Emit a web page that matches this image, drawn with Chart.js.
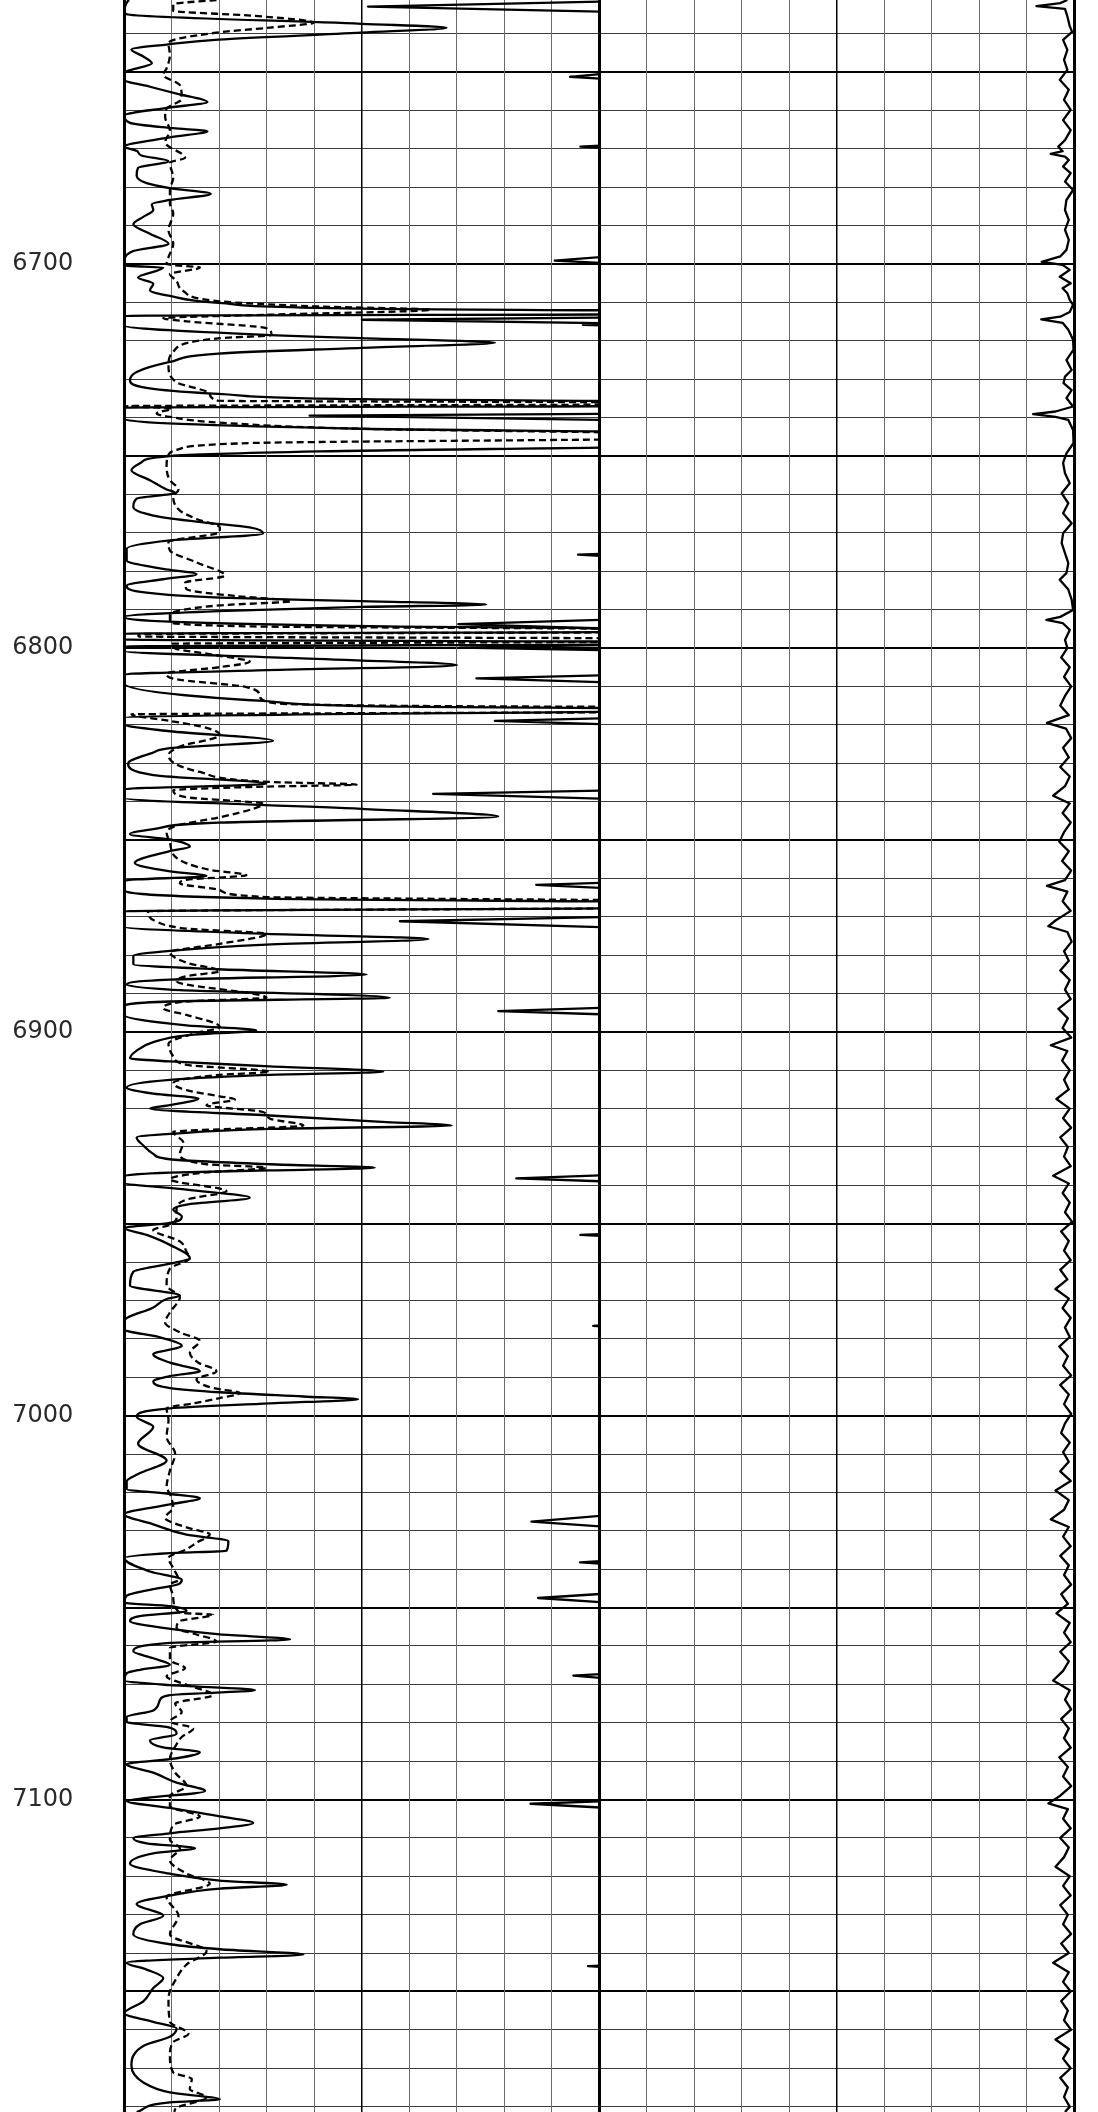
<!DOCTYPE html>
<html><head><meta charset="utf-8">
<script src="https://cdn.jsdelivr.net/npm/chart.js@4/dist/chart.umd.min.js"></script>
<style>html,body{margin:0;padding:0;background:#fff;}canvas{display:block;}</style>
</head><body>
<canvas id="c" width="1098" height="2112"></canvas>
<script>
// depth window (ft) and labelled depths
const depthRange = [6631.2, 7181.4];
const depthLabels = [6700, 6800, 6900, 7000, 7100];
const gridDepths = [];
for (let d = 6640; d <= 7180; d += 10) gridDepths.push(d);
// track scales (divisions)
const track1Range = [0, 10];
const track2Range = [0, 10];

// Track 1 solid curve  [depth, value]
const curveA = [[6631.2,0.10],[6631.4,0.08],[6634.2,0.0],[6634.9,0.05],[6637.4,4.99],[6638.4,6.78],[6639.7,4.99],[6641.5,1.98],[6642.8,0.89],[6644.1,0.15],[6645.9,0.40],[6647.7,0.58],[6649.4,0.15],[6650.0,0.0],[6652.0,0.0],[6653.8,0.54],[6655.6,1.10],[6657.8,1.75],[6659.3,0.89],[6661.3,0.0],[6663.2,0.12],[6664.6,1.03],[6665.4,1.75],[6667.0,0.96],[6669.4,0.0],[6670.5,0.26],[6671.7,0.36],[6673.2,0.93],[6674.9,0.29],[6676.9,0.26],[6678.9,0.47],[6680.2,0.96],[6681.7,1.82],[6683.3,0.96],[6684.4,0.58],[6685.9,0.61],[6687.7,0.40],[6689.6,0.19],[6692.1,0.54],[6694.7,0.93],[6696.6,0.19],[6699.5,0.0],[6700.4,0.05],[6700.9,0.82],[6703.5,0.29],[6705.1,0.61],[6706.8,0.54],[6708.3,0.96],[6710.1,1.98],[6711.6,4.99],[6712.3,12],[6713.0,12],[6713.5,0.0],[6716.0,0.0],[6718.5,3.06],[6719.3,4.99],[6720.5,7.80],[6721.8,4.99],[6723.3,1.98],[6725.5,0.96],[6728.1,0.26],[6730.3,0.12],[6732.5,0.61],[6733.8,1.98],[6735.2,4.99],[6735.9,12],[6736.9,12],[6737.4,0.0],[6740.4,0.0],[6742.9,4.99],[6744.0,12],[6747.2,12],[6748.8,4.1],[6750.0,0.96],[6751.9,0.33],[6753.7,0.15],[6756.3,0.54],[6758.7,0.89],[6759.6,1.07],[6761.1,0.26],[6763.3,0.19],[6765.5,0.61],[6767.3,1.66],[6768.6,2.64],[6770.2,2.92],[6772.0,0.96],[6774.2,0.05],[6777.2,0.05],[6779.4,0.82],[6780.8,1.52],[6782.1,0.82],[6783.8,0.05],[6785.6,0.47],[6786.9,2.01],[6787.8,4.99],[6788.7,7.62],[6789.3,4.99],[6790.4,1.98],[6791.9,0.0],[6794.4,5.5],[6795.1,12],[6795.7,12],[6796.3,0.0],[6797.8,0.0],[6798.5,12],[6799.0,12],[6799.6,0.0],[6800.8,0.0],[6802.6,3.5],[6804.5,7.0],[6805.8,3.0],[6806.9,0.0],[6809.2,0.0],[6813.8,2.92],[6815.3,6.0],[6815.9,12],[6816.4,12],[6817.1,5.5],[6818.2,0.0],[6819.9,0.0],[6821.7,0.96],[6824.2,3.13],[6826.1,0.96],[6827.4,0.58],[6830.1,0.08],[6833.1,0.61],[6835.4,2.99],[6836.8,0.0],[6839.1,0.0],[6841.9,4.99],[6843.9,7.87],[6845.5,1.98],[6847.2,0.61],[6848.5,0.12],[6849.9,0.96],[6851.8,1.38],[6852.9,0.96],[6856.0,0.22],[6858.2,0.96],[6859.4,1.73],[6860.6,0.0],[6862.9,0.0],[6865.3,2.99],[6866.4,12],[6867.6,12],[6868.6,0.0],[6872.6,0.0],[6874.5,2.99],[6875.8,6.40],[6877.3,2.99],[6878.9,0.96],[6880.2,0.19],[6882.4,0.19],[6883.7,1.98],[6885.1,5.10],[6886.4,0.96],[6887.7,0.05],[6889.0,0.96],[6891.1,5.59],[6892.1,0.96],[6893.4,0.0],[6895.6,0.0],[6898.3,1.31],[6899.6,2.78],[6900.9,1.31],[6902.7,0.61],[6904.9,0.26],[6906.9,0.12],[6907.7,0.96],[6909.0,3.06],[6910.4,5.45],[6911.2,3.06],[6912.5,0.96],[6914.5,0.05],[6916.1,0.61],[6917.4,1.56],[6919.1,0.96],[6920.0,0.54],[6921.8,3.06],[6923.5,5.52],[6924.4,6.89],[6925.3,3.06],[6926.6,0.96],[6927.5,0.26],[6929.6,0.40],[6931.8,0.61],[6933.2,0.96],[6934.5,3.06],[6935.4,5.27],[6936.1,3.06],[6936.7,0.96],[6937.5,0.0],[6939.3,0.0],[6941.1,1.31],[6943.2,2.64],[6945.0,1.31],[6946.3,1.03],[6948.1,1.21],[6949.8,0.96],[6951.1,0.0],[6952.9,0.47],[6955.5,0.96],[6959.0,1.38],[6960.4,0.96],[6962.5,0.19],[6966.1,0.12],[6968.7,1.17],[6969.6,0.89],[6971.8,0.61],[6975.3,0.0],[6977.5,0.0],[6979.6,0.75],[6981.8,1.21],[6984.0,0.61],[6986.2,0.96],[6988.4,1.59],[6989.7,0.96],[6991.1,0.61],[6992.8,0.96],[6993.9,2.01],[6995.0,3.77],[6995.7,4.92],[6996.8,3.06],[6998.1,0.96],[7000.3,0.26],[7002.9,0.61],[7007.3,0.29],[7011.7,0.89],[7015.2,0.29],[7017.1,0.05],[7019.1,0.05],[7020.4,0.96],[7021.5,1.59],[7023.1,0.96],[7025.7,0.0],[7028.3,0.61],[7031.0,1.31],[7032.7,2.19],[7035.2,2.15],[7035.8,0.96],[7037.1,0.0],[7040.6,0.54],[7042.8,1.21],[7043.9,1.14],[7045.2,0.61],[7046.9,0.05],[7048.7,0.0],[7049.6,0.96],[7050.9,1.31],[7052.2,0.33],[7053.5,0.12],[7055.3,0.82],[7057.0,2.01],[7058.3,3.49],[7059.2,0.96],[7061.4,0.19],[7063.2,0.61],[7064.9,0.96],[7066.2,0.33],[7067.1,0.05],[7068.9,0.0],[7070.2,0.96],[7071.5,2.75],[7072.8,0.96],[7074.1,0.75],[7076.8,0.61],[7078.5,0.05],[7079.8,0.05],[7081.1,0.89],[7082.9,1.10],[7084.6,0.54],[7086.4,0.82],[7087.7,1.59],[7089.5,0.96],[7090.8,0.05],[7093.0,0.61],[7095.6,1.10],[7097.8,1.70],[7099.6,0.47],[7100.4,0.05],[7102.2,0.96],[7104.4,2.01],[7106.1,2.71],[7107.5,2.01],[7108.8,0.96],[7110.1,0.19],[7111.4,0.47],[7112.7,1.49],[7114.0,0.61],[7116.7,0.12],[7119.3,0.96],[7121.1,2.01],[7122.2,3.42],[7123.2,2.01],[7125.0,0.96],[7127.2,0.26],[7130.3,0.82],[7132.5,0.33],[7135.1,0.19],[7137.7,0.96],[7139.0,2.01],[7140.4,3.77],[7141.2,2.01],[7142.5,0.05],[7144.3,0.47],[7146.5,0.82],[7149.1,0.61],[7152.6,0.40],[7155.7,0.0],[7157.9,0.61],[7159.6,1.10],[7161.8,0.96],[7164.0,0.43],[7166.7,0.19],[7169.3,0.15],[7173.7,0.40],[7176.3,0.96],[7178.1,2.01],[7178.9,0.96],[7181.4,0.26]];

// Track 1 dashed curve  [depth, value]
const curveB = [[6631.2,1.94],[6632.3,1.03],[6634.0,1.03],[6635.3,2.71],[6637.1,3.98],[6638.4,3.06],[6639.7,1.94],[6642.4,0.93],[6645.5,0.96],[6649.0,0.89],[6650.7,0.82],[6653.4,1.17],[6656.9,1.21],[6659.5,0.89],[6661.7,0.86],[6665.2,0.96],[6668.3,0.86],[6672.3,1.28],[6673.6,0.96],[6677.6,1.03],[6680.6,0.96],[6684.2,0.96],[6686.8,1.03],[6691.2,0.93],[6694.7,1.03],[6698.2,0.93],[6700.0,0.89],[6700.9,1.59],[6702.6,0.96],[6704.4,1.10],[6707.0,1.24],[6709.7,2.01],[6711.0,3.98],[6711.9,6.45],[6713.2,3.0],[6714.1,0.82],[6714.9,1.31],[6716.7,2.99],[6718.5,3.10],[6719.3,2.01],[6722.8,1.03],[6726.4,0.93],[6730.8,1.10],[6733.8,1.80],[6735.6,1.98],[6736.1,12],[6736.5,12],[6737.0,0.0],[6737.6,1.0],[6738.9,0.68],[6739.8,0.96],[6741.3,2.01],[6742.9,4.99],[6744.4,12],[6745.3,12],[6746.6,2.71],[6748.4,1.10],[6749.7,0.93],[6752.8,0.89],[6756.3,0.96],[6758.7,1.14],[6760.7,1.03],[6764.2,1.17],[6766.4,1.52],[6768.6,2.01],[6769.8,2.01],[6772.4,0.93],[6774.6,0.96],[6777.7,1.52],[6781.2,2.12],[6783.0,1.28],[6784.7,1.31],[6786.5,2.36],[6787.8,3.52],[6788.9,2.01],[6791.3,0.96],[6793.1,0.96],[6794.4,2.71],[6795.2,12],[6795.8,12],[6796.4,0.3],[6797.0,0.3],[6797.6,12],[6798.3,12],[6798.9,1.0],[6800.1,1.07],[6801.9,1.94],[6803.6,2.64],[6805.0,2.01],[6806.7,0.89],[6808.0,1.03],[6810.2,2.57],[6812.4,2.85],[6814.2,3.06],[6815.1,6.01],[6815.5,12],[6816.6,12],[6817.3,0.15],[6819.0,0.96],[6820.8,1.73],[6822.7,2.01],[6825.7,1.17],[6827.9,0.93],[6832.3,1.59],[6834.9,3.06],[6835.6,4.89],[6836.2,2.71],[6837.1,1.03],[6838.9,1.31],[6840.6,2.92],[6841.9,2.71],[6844.1,2.01],[6846.3,1.10],[6848.1,0.89],[6850.7,0.96],[6854.7,1.10],[6857.8,1.80],[6859.2,2.57],[6860.4,1.31],[6861.3,1.17],[6863.1,2.01],[6864.9,2.99],[6866.0,12],[6867.6,12],[6868.6,0.5],[6871.3,0.68],[6873.1,1.31],[6874.5,2.99],[6877.1,2.01],[6879.3,0.96],[6882.0,1.31],[6884.2,2.01],[6885.5,1.31],[6886.8,1.10],[6891.1,2.99],[6892.1,1.31],[6893.9,0.82],[6895.6,1.31],[6898.7,2.01],[6900.5,1.45],[6903.1,0.93],[6906.4,1.03],[6908.6,1.31],[6910.4,3.06],[6911.2,2.01],[6913.4,1.03],[6915.2,1.31],[6916.8,2.01],[6917.6,2.33],[6919.1,1.73],[6920.9,2.92],[6922.6,3.06],[6924.4,3.77],[6926.1,1.03],[6928.8,1.24],[6931.8,1.17],[6934.5,1.73],[6935.4,2.99],[6936.7,1.66],[6938.4,0.96],[6941.5,2.15],[6943.7,1.31],[6945.9,1.10],[6948.5,1.10],[6950.3,0.96],[6951.6,0.61],[6954.6,1.17],[6957.3,1.31],[6959.0,1.38],[6961.7,0.96],[6966.1,0.89],[6969.1,1.17],[6973.1,0.96],[6975.7,0.86],[6978.3,1.17],[6980.5,1.59],[6983.6,1.38],[6986.2,1.56],[6988.4,1.94],[6990.6,1.52],[6992.8,1.87],[6994.1,2.43],[6995.4,2.01],[6996.8,1.45],[6998.1,0.89],[7001.1,0.93],[7005.5,0.89],[7009.9,1.07],[7014.3,0.96],[7018.7,0.89],[7020.4,0.96],[7023.9,1.03],[7026.6,0.86],[7029.1,1.31],[7030.9,1.80],[7033.1,1.52],[7034.8,1.31],[7037.1,0.93],[7039.7,1.03],[7042.8,1.14],[7043.9,0.96],[7047.4,1.03],[7051.3,1.17],[7051.9,1.87],[7053.5,1.17],[7055.3,1.10],[7057.0,1.52],[7058.8,1.94],[7060.5,0.96],[7063.6,0.96],[7065.8,1.28],[7067.9,0.89],[7070.1,1.31],[7072.8,1.87],[7075.0,1.07],[7077.2,1.21],[7079.7,0.96],[7081.5,1.45],[7083.7,1.21],[7085.6,1.10],[7089.5,0.96],[7093.0,1.07],[7096.5,1.31],[7099.1,0.96],[7101.8,0.96],[7104.4,1.59],[7106.6,1.03],[7110.5,0.96],[7112.7,1.17],[7115.8,0.96],[7119.3,1.31],[7121.9,1.80],[7125.4,0.89],[7130.3,1.14],[7135.1,0.96],[7139.5,1.73],[7143.0,1.31],[7146.5,1.10],[7151.8,0.93],[7157.9,0.96],[7161.0,1.35],[7163.2,1.03],[7166.7,0.96],[7171.1,1.03],[7172.8,1.42],[7175.4,1.38],[7177.6,1.73],[7180.3,1.10],[7181.4,1.05]];

// Track 1 curve riding the right edge (leftward spikes)  [depth, value]
const curveC = [[6631.2,10.2],[6631.6,10.2],[6632.9,5.13],[6634.3,10.2],[6650.3,10.2],[6651.2,9.38],[6651.8,10.2],[6669.0,10.2],[6669.4,9.6],[6669.8,10.2],[6698.0,10.2],[6699.1,9.06],[6699.8,10.2],[6713.9,10.2],[6714.5,5.0],[6715.4,10.2],[6715.6,10.2],[6715.8,9.65],[6716.0,10.2],[6739.0,10.2],[6739.5,3.9],[6740.6,10.2],[6775.4,10.2],[6775.7,9.55],[6776.1,10.2],[6792.6,10.2],[6793.8,7.03],[6795.0,10.2],[6799.2,10.2],[6799.9,7.06],[6800.6,10.2],[6807.1,10.2],[6807.9,7.41],[6809.0,10.2],[6818.3,10.2],[6819.0,7.8],[6819.9,10.2],[6837.1,10.2],[6838.0,6.5],[6839.3,10.2],[6861.1,10.2],[6861.7,8.67],[6862.6,10.2],[6870.1,10.2],[6871.2,5.8],[6872.8,10.2],[6893.7,10.2],[6894.6,7.87],[6895.5,10.2],[6937.3,10.2],[6938.2,8.25],[6939.0,10.2],[6952.6,10.2],[6952.9,9.6],[6953.3,10.2],[6976.4,10.2],[6976.6,9.87],[6976.9,10.2],[7025.9,10.2],[7027.6,8.57],[7029.0,10.2],[7037.8,10.2],[7038.2,9.59],[7038.7,10.2],[7046.3,10.2],[7047.5,8.71],[7048.7,10.2],[7067.2,10.2],[7067.7,9.45],[7068.5,10.2],[7100.4,10.2],[7101.1,8.55],[7102.2,10.2],[7143.2,10.2],[7143.4,9.76],[7143.7,10.2],[7181.4,10.2]];

// Track 2 curve  [depth, value]
const curveD = [[6631.2,9.85],[6632.0,9.7],[6632.8,9.2],[6633.5,9.8],[6635.5,9.85],[6638.0,9.9],[6639.5,9.95],[6641.6,9.76],[6644.2,9.85],[6646.8,9.78],[6649.4,9.85],[6652.0,9.69],[6654.6,9.88],[6657.2,9.78],[6659.8,9.92],[6662.5,9.76],[6665.1,9.92],[6667.7,9.8],[6669.4,9.66],[6670.6,9.75],[6671.3,9.5],[6672.0,9.8],[6672.9,9.88],[6674.6,9.76],[6676.3,9.92],[6678.5,9.8],[6680.7,9.97],[6683.3,9.83],[6685.9,9.8],[6688.5,9.88],[6691.1,9.8],[6693.7,9.88],[6696.3,9.83],[6698.0,9.7],[6699.4,9.31],[6700.2,9.75],[6701.5,9.9],[6703.3,9.69],[6705.0,9.92],[6706.3,9.75],[6707.6,9.85],[6709.3,9.9],[6710.6,9.97],[6712.5,9.9],[6713.7,9.7],[6714.4,9.3],[6715.3,9.75],[6717.1,9.87],[6719.7,9.97],[6722.3,9.98],[6725.0,9.83],[6727.6,9.94],[6729.3,9.8],[6731.0,9.77],[6732.8,9.94],[6734.9,9.83],[6737.1,9.97],[6738.4,9.6],[6739.1,9.13],[6739.8,9.6],[6740.6,9.87],[6743.2,9.97],[6746.6,9.98],[6749.3,9.83],[6751.8,9.76],[6754.5,9.8],[6757.1,9.9],[6759.7,9.73],[6762.3,9.87],[6764.9,9.76],[6767.5,9.94],[6770.1,9.76],[6772.7,9.73],[6775.3,9.8],[6777.9,9.87],[6780.5,9.83],[6782.2,9.69],[6784.8,9.87],[6787.4,9.94],[6790.1,9.97],[6791.9,9.7],[6792.7,9.41],[6793.5,9.75],[6795.3,9.9],[6797.9,9.8],[6800.0,9.85],[6802.5,9.72],[6805,9.9],[6807.5,9.78],[6810,9.93],[6812.5,9.8],[6815,9.7],[6817.5,9.88],[6819.5,9.42],[6821,9.82],[6823.5,9.93],[6826,9.76],[6828.5,9.88],[6831,9.7],[6833.5,9.9],[6836,9.8],[6838.5,9.55],[6840.5,9.9],[6843,9.75],[6845.5,9.92],[6848,9.78],[6850.5,9.68],[6853,9.88],[6855.5,9.74],[6858,9.93],[6860.5,9.8],[6862,9.42],[6863.5,9.85],[6866,9.75],[6868.5,9.92],[6871,9.6],[6872.5,9.45],[6874,9.85],[6876.5,9.94],[6879,9.78],[6881.5,9.88],[6884,9.7],[6886.5,9.9],[6889,9.8],[6891.5,9.92],[6894,9.66],[6896.5,9.86],[6899,9.75],[6901.5,9.93],[6903.5,9.5],[6905,9.85],[6907.5,9.74],[6910,9.9],[6912.5,9.78],[6915,9.88],[6917.5,9.62],[6920,9.9],[6922.5,9.76],[6925,9.93],[6927.5,9.7],[6930,9.86],[6932.5,9.78],[6935,9.92],[6937.5,9.55],[6939.5,9.88],[6942,9.75],[6944.5,9.9],[6947,9.8],[6949.5,9.95],[6952,9.72],[6954.5,9.88],[6957,9.78],[6959.5,9.92],[6962,9.7],[6964.5,9.85],[6967,9.6],[6969.5,9.88],[6972,9.75],[6974.5,9.92],[6977,9.8],[6979.5,9.9],[6982,9.68],[6984.5,9.86],[6987,9.76],[6989.5,9.93],[6992,9.7],[6994.5,9.88],[6997,9.78],[6999.5,9.93],[7002,9.8],[7004.5,9.72],[7007,9.9],[7009.5,9.76],[7012,9.88],[7014.5,9.7],[7017,9.92],[7019.5,9.6],[7022,9.88],[7024.5,9.78],[7027,9.5],[7029,9.88],[7031.5,9.76],[7034,9.92],[7036.5,9.7],[7039,9.88],[7041.5,9.78],[7044,9.93],[7046.5,9.72],[7049,9.86],[7051.5,9.62],[7054,9.9],[7056.5,9.78],[7059,9.92],[7061.5,9.7],[7064,9.88],[7066.5,9.76],[7069,9.55],[7071.5,9.9],[7074,9.8],[7076.5,9.93],[7079,9.72],[7081.5,9.88],[7084,9.78],[7086.5,9.92],[7089,9.68],[7091.5,9.86],[7094,9.76],[7096.5,9.93],[7099,9.7],[7101,9.45],[7102.5,9.86],[7105,9.76],[7107.5,9.92],[7110,9.7],[7112.5,9.88],[7115,9.78],[7117.5,9.6],[7120,9.9],[7122.5,9.76],[7125,9.92],[7127.5,9.7],[7130,9.86],[7132.5,9.76],[7135,9.93],[7137.5,9.72],[7140,9.88],[7142.5,9.55],[7145,9.88],[7147.5,9.76],[7150,9.92],[7152.5,9.72],[7155,9.86],[7157.5,9.78],[7160,9.93],[7162.5,9.6],[7165,9.88],[7167.5,9.76],[7170,9.92],[7172.5,9.7],[7175,9.86],[7177.5,9.78],[7180,9.9],[7181.4,9.8]];

const toPts = arr => arr.map(p => ({x: p[1], y: p[0]}));
const lineDs = (data, axis, dash, smooth) => ({
  data: toPts(data), xAxisID: axis, yAxisID: 'y',
  borderColor: '#000', borderWidth: 2.3, borderDash: dash || [], pointRadius: 0,
  tension: 0, cubicInterpolationMode: smooth ? 'monotone' : 'default',
  clip: 0, fill: false, borderJoinStyle: 'round', borderCapStyle: 'butt'
});

const vGrid = {
  drawTicks: false,
  color: c => { const v = c.tick ? c.tick.value : -1; return (v === 0 || v === 10 || v === 5) ? '#000' : '#6b6b6b'; },
  lineWidth: c => { const v = c.tick ? c.tick.value : -1; return (v === 0 || v === 10) ? 3 : (v === 5 ? 1.5 : 1); }
};

new Chart(document.getElementById('c'), {
  type: 'line',
  data: { datasets: [
    lineDs(curveA, 'x1', null, true),
    lineDs(curveB, 'x1', [7, 4], true),
    lineDs(curveC, 'x1', null, false),
    lineDs(curveD, 'x2', null, false)
  ]},
  options: {
    indexAxis: 'y',
    responsive: false, animation: false, events: [],
    layout: { padding: { left: 0, right: 23.5, top: 0, bottom: 0 } },
    plugins: { legend: { display: false }, tooltip: { enabled: false } },
    scales: {
      y: {
        type: 'linear', position: 'left', reverse: true,
        min: depthRange[0], max: depthRange[1],
        afterBuildTicks: s => { s.ticks = gridDepths.map(v => ({ value: v })); },
        afterFit: s => { s.width = 124.3; s.paddingTop = 0; s.paddingBottom = 0; },
        ticks: {
          padding: 51, color: '#2a2a2a', autoSkip: false,
          font: { family: 'DejaVu Sans', size: 24 },
          callback: v => depthLabels.includes(v) ? String(v) : ''
        },
        grid: {
          drawTicks: false,
          color: c => (c.tick && c.tick.value % 50 === 0) ? '#000' : '#3c3c3c',
          lineWidth: c => (c.tick && c.tick.value % 50 === 0) ? 2 : 1
        },
        border: { display: true, color: '#000', width: 2 }
      },
      x1: {
        type: 'linear', axis: 'x', position: 'bottom', stack: 'tracks', stackWeight: 1,
        min: track1Range[0], max: track1Range[1],
        ticks: { display: false, stepSize: 1 }, grid: vGrid, border: { display: false }
      },
      x2: {
        type: 'linear', axis: 'x', position: 'bottom', stack: 'tracks', stackWeight: 1,
        min: track2Range[0], max: track2Range[1],
        ticks: { display: false, stepSize: 1 }, grid: vGrid, border: { display: false }
      }
    }
  }
});
</script>
</body></html>
